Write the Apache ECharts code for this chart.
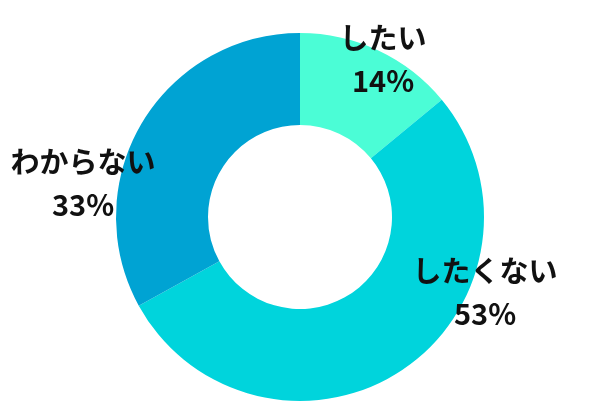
<!DOCTYPE html>
<html>
<head>
<meta charset="utf-8">
<script src="https://cdn.jsdelivr.net/npm/echarts@6/dist/echarts.min.js"></script>
<style>
html,body{margin:0;padding:0;background:#fff;}
#chart{width:600px;height:413px;}
</style>
</head>
<body>
<div id="chart"></div>
<script>
const categories = ['したい', 'したくない', 'わからない'];
const values = [14, 53, 33];
const colors = ['#4BFDD6', '#00D4DC', '#00A3D3'];
const labelPos = [[383, 59], [485, 292], [83, 183]];

const chart = echarts.init(document.getElementById('chart'));
chart.setOption({
  animation: false,
  series: [{
    type: 'pie',
    center: [300, 217],
    radius: [92, 184],
    startAngle: 90,
    clockwise: true,
    silent: true,
    avoidLabelOverlap: false,
    itemStyle: { borderWidth: 0 },
    label: {
      show: true,
      position: 'outside',
      alignTo: 'none',
      overflow: 'none',
      width: 300,
      formatter: '{b}\n{c}%',
      color: '#111',
      fontFamily: '"Noto Sans CJK JP", "Noto Sans", sans-serif',
      fontWeight: 'bold',
      fontSize: 29,
      lineHeight: 43,
      align: 'center'
    },
    labelLine: { show: false },
    labelLayout: function (p) {
      const pos = labelPos[p.dataIndex];
      return { x: pos[0], y: pos[1], align: 'center', verticalAlign: 'middle', hideOverlap: false, moveOverlap: false };
    },
    data: categories.map((c, i) => ({ name: c, value: values[i], itemStyle: { color: colors[i] } }))
  }]
});
</script>
</body>
</html>
